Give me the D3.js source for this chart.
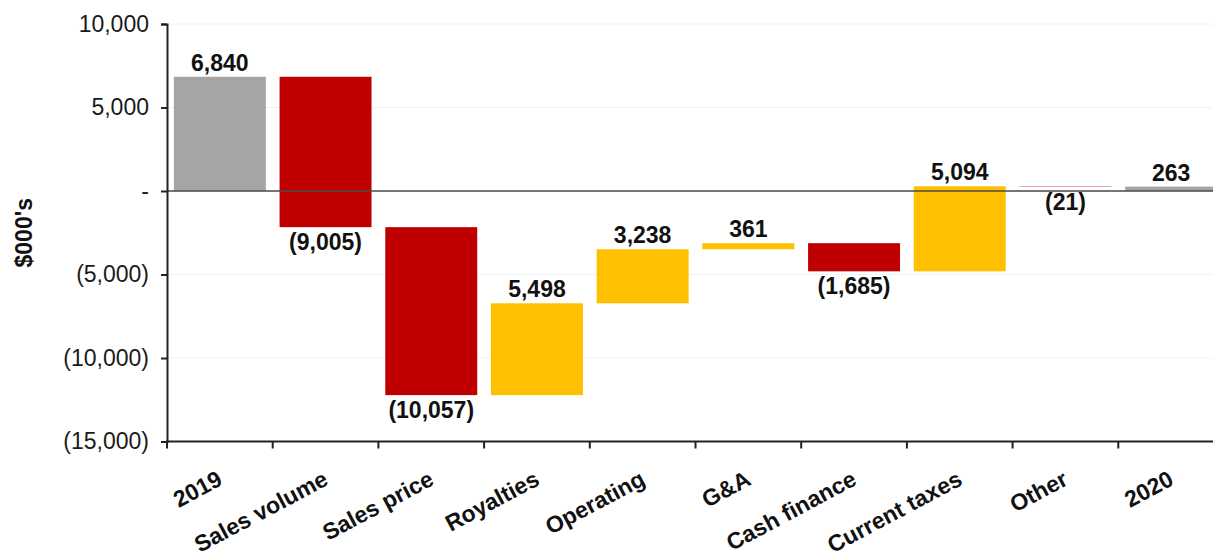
<!DOCTYPE html>
<html>
<head>
<meta charset="utf-8">
<script src="https://cdn.jsdelivr.net/npm/d3@7"></script>
<style>
  html, body { margin: 0; padding: 0; background: #fff; overflow: hidden; }
  svg { display: block; font-family: "Liberation Sans", Arial, sans-serif; }
</style>
</head>
<body>
<svg id="chart" width="1213" height="554"></svg>
<script>
// Cash flow bridge, 2019 to 2020 ($000's)
const categories = ["2019", "Sales volume", "Sales price", "Royalties", "Operating",
                    "G&A", "Cash finance", "Current taxes", "Other", "2020"];
const changes = [6840, -9005, -10057, 5498, 3238, 361, -1685, 5094, -21, 263];
const kinds = ["total", "step", "step", "step", "step", "step", "step", "step", "step", "total"];
const yTicks = [10000, 5000, 0, -5000, -10000, -15000];

const colors = { total: "#a5a5a5", up: "#ffc000", down: "#c00000" };

// Build bar extents: totals start at zero, steps start where the running total left off
let running = 0;
const bars = categories.map((c, i) => {
  const v = changes[i];
  let start, end;
  if (kinds[i] === "total") { start = 0; end = v; running = v; }
  else { start = running; end = running + v; running = end; }
  const type = kinds[i] === "total" ? "total" : (v >= 0 ? "up" : "down");
  return { name: c, value: v, start, end, type };
});

const plotLeft = 167, plotTop = 24, plotBottom = 441.5;
const stepWidth = 105.7;
const plotRight = plotLeft + stepWidth * categories.length;

const svg = d3.select("#chart");

const x = d3.scaleBand()
  .domain(categories)
  .range([plotLeft, plotRight])
  .paddingInner(0.13)
  .paddingOuter(0.065);

const y = d3.scaleLinear().domain([-15000, 10000]).range([plotBottom, plotTop]);

const fmt = v => {
  if (v === 0) return "-";
  const s = d3.format(",")(Math.abs(v));
  return v < 0 ? `(${s})` : s;
};

// Faint horizontal gridlines
svg.append("g")
  .selectAll("line")
  .data(yTicks)
  .join("line")
  .attr("x1", plotLeft).attr("x2", plotRight)
  .attr("y1", d => y(d)).attr("y2", d => y(d))
  .attr("stroke", "#eef2f8").attr("stroke-width", 1);

// Bars
svg.append("g")
  .selectAll("rect")
  .data(bars)
  .join("rect")
  .attr("x", d => x(d.name))
  .attr("width", x.bandwidth())
  .attr("y", d => y(Math.max(d.start, d.end)))
  .attr("height", d => Math.abs(y(d.start) - y(d.end)))
  .attr("fill", d => colors[d.type]);

// Zero line
svg.append("line")
  .attr("x1", plotLeft).attr("x2", plotRight)
  .attr("y1", y(0)).attr("y2", y(0))
  .attr("stroke", "#4a4a4a").attr("stroke-width", 1.5);

// Y axis
const yAxis = d3.axisLeft(y)
  .tickValues(yTicks)
  .tickFormat(fmt)
  .tickSize(6)
  .tickPadding(12);

const gy = svg.append("g")
  .attr("transform", `translate(${plotLeft},0)`)
  .call(yAxis);
gy.select(".domain").attr("stroke", "#222").attr("stroke-width", 2);
gy.selectAll(".tick line").attr("stroke", "#222").attr("stroke-width", 2);
gy.selectAll(".tick text")
  .attr("font-size", 23)
  .attr("fill", "#1a1a1a")
  .attr("font-family", "Liberation Sans, Arial, sans-serif");

// X axis line with ticks between categories
svg.append("line")
  .attr("x1", plotLeft - 1).attr("x2", plotRight)
  .attr("y1", plotBottom).attr("y2", plotBottom)
  .attr("stroke", "#222").attr("stroke-width", 2);

const gap = (x.step() - x.bandwidth()) / 2;
svg.append("g")
  .selectAll("line")
  .data(categories)
  .join("line")
  .attr("x1", d => x(d) - gap).attr("x2", d => x(d) - gap)
  .attr("y1", plotBottom).attr("y2", plotBottom + 7)
  .attr("stroke", "#222").attr("stroke-width", 2);

// Category labels, slanted
svg.append("g")
  .selectAll("text")
  .data(categories)
  .join("text")
  .attr("transform", d => `translate(${x(d) + x.bandwidth() / 2 + 4},484) rotate(-28)`)
  .attr("text-anchor", "end")
  .attr("font-size", 23)
  .attr("font-weight", "bold")
  .attr("fill", "#111")
  .text(d => d);

// Value labels: above rising/total bars, below falling bars
svg.append("g")
  .selectAll("text")
  .data(bars)
  .join("text")
  .attr("x", d => x(d.name) + x.bandwidth() / 2)
  .attr("y", d => d.type === "down"
    ? y(Math.min(d.start, d.end)) + 23
    : y(Math.max(d.start, d.end)) - 6)
  .attr("text-anchor", "middle")
  .attr("font-size", 23)
  .attr("font-weight", "bold")
  .attr("fill", "#111")
  .text(d => fmt(d.value));

// Y axis title
svg.append("text")
  .attr("transform", `translate(32,${(plotTop + plotBottom) / 2}) rotate(-90)`)
  .attr("text-anchor", "middle")
  .attr("font-size", 23)
  .attr("font-weight", "bold")
  .attr("fill", "#111")
  .text("$000's");
</script>
</body>
</html>
